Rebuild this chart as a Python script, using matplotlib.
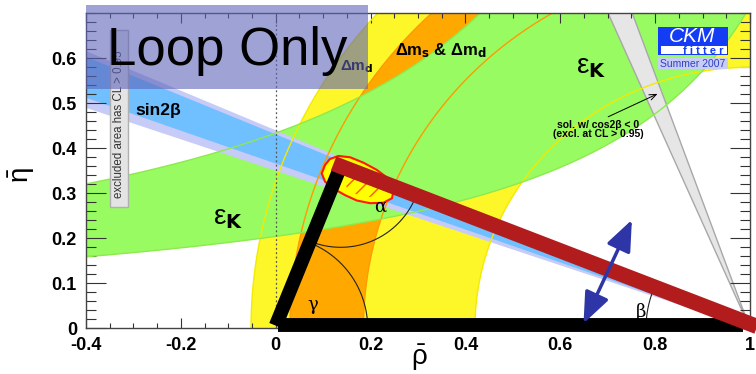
import numpy as np
import matplotlib
matplotlib.use("Agg")
import matplotlib.pyplot as plt
from matplotlib.patches import Polygon, Rectangle, FancyArrowPatch

plt.rcParams['font.family'] = ['Liberation Sans', 'DejaVu Sans']
plt.rcParams['mathtext.default'] = 'regular'
plt.rcParams['hatch.linewidth'] = 1.0

W, H = 756, 374

# ticks
x_ticks = [-0.4, -0.2, 0.0, 0.2, 0.4, 0.6, 0.8, 1.0]
x_tick_labels = ["-0.4", "-0.2", "0", "0.2", "0.4", "0.6", "0.8", "1"]
y_ticks = [0.0, 0.1, 0.2, 0.3, 0.4, 0.5, 0.6]
y_tick_labels = ["0", "0.1", "0.2", "0.3", "0.4", "0.5", "0.6"]

# rings around (1, 0): dmd (yellow), dms & dmd (orange)
dmd_radii = [0.58, 1.052]
dms_radii = [0.815, 0.97]

# eps_K band edges, eta = k / (a - rho) -> [a, k]
epsk_low = [1.40, 0.286]
epsk_up = [1.134, 0.492]

# sin2beta band edges, slope eta / (1 - rho)
sin2b_outer = [0.350, 0.440]
sin2b_inner = [0.366, 0.431]
# cos2beta < 0 solution (grey)
cos2b_slopes = [2.34, 2.82]

# global fit region (95% outline) and hatched inner part
fit_rho = [0.097, 0.104, 0.114, 0.132, 0.157, 0.185, 0.213, 0.241, 0.249, 0.245,
           0.227, 0.199, 0.171, 0.146, 0.121, 0.104]
fit_eta = [0.344, 0.363, 0.376, 0.383, 0.380, 0.368, 0.352, 0.330, 0.307, 0.289,
           0.279, 0.278, 0.284, 0.296, 0.311, 0.326]
fit68_rho = [0.150, 0.185, 0.220, 0.234, 0.223, 0.192, 0.164, 0.146]
fit68_eta = [0.337, 0.344, 0.333, 0.315, 0.296, 0.291, 0.300, 0.318]

# unitarity triangle
apex = [0.137, 0.360]
base_rho = [0.005, 0.986]
base_eta = 0.0075
red_end = [1.0, 0.010]

# blue double arrow and cos2b arrow
blue_arrow = [(0.649, 0.011), (0.751, 0.241)]
sol_arrow = [(0.701, 0.470), (0.805, 0.521)]


def px(x, y):
    return x / W, 1 - y / H


def ring(r_in, r_out, n=400):
    t = np.linspace(0, np.pi, n)
    xo = 1 + r_out * np.cos(t)
    yo = r_out * np.sin(t)
    xi = 1 + r_in * np.cos(t[::-1])
    yi = r_in * np.sin(t[::-1])
    return np.column_stack([np.r_[xo, xi], np.r_[yo, yi]])


def wedge(s1, s2):
    return [(1, 0), (-2, 3 * s1), (-2, 3 * s2)]


fig = plt.figure(figsize=(W / 100, H / 100), dpi=100)
ax = fig.add_axes([86 / W, (H - 328.3) / H, 664 / W, 315.6 / H])
ax.set_xlim(-0.4, 1.0)
ax.set_ylim(0, 0.7013)

yellow = '#fdf72a'
orange = '#ffa800'
green = '#99fb62'

ax.add_patch(Polygon(ring(*dmd_radii), closed=True, fc=yellow, ec='none', zorder=1.0))
ax.add_patch(Polygon(ring(*dms_radii), closed=True, fc=orange, ec='none', zorder=1.1))

rho = np.linspace(-0.5, 1.1, 800)
low = epsk_low[1] / (epsk_low[0] - rho)
up = np.where(rho < epsk_up[0] - 0.01, epsk_up[1] / np.clip(epsk_up[0] - rho, 0.01, None), 5)
up = np.minimum(up, 5)
ax.fill_between(rho, low, up, color=green, lw=0, zorder=1.2)

ax.add_patch(Polygon(wedge(*sin2b_outer), closed=True, fc='#c6cbf7', ec='none', zorder=1.3))
ax.add_patch(Polygon(wedge(*sin2b_inner), closed=True, fc='#70bfff', ec='none', zorder=1.4))
ax.add_patch(Polygon(wedge(*cos2b_slopes), closed=True, fc='#e6e6e6', ec='#a8a8a8', lw=1, zorder=1.5))

# contour lines drawn over the fills
t = np.linspace(0, np.pi, 400)
for r in dmd_radii:
    ax.plot(1 + r * np.cos(t), r * np.sin(t), color='#f2ea00', lw=1, zorder=2)
for r in dms_radii:
    ax.plot(1 + r * np.cos(t), r * np.sin(t), color='#ff9a00', lw=1, zorder=2)
ax.plot(rho, low, color='#8cea4e', lw=1, zorder=2)
ax.plot(rho, up, color='#8cea4e', lw=1, zorder=2)

ax.axvline(0, color='#555555', ls=(0, (1.5, 2)), lw=0.9, zorder=2.1)

# fit region
ax.add_patch(Polygon(np.column_stack([fit_rho, fit_eta]), closed=True, fc='#ffff00',
                     ec='#ff1a00', lw=1.5, zorder=3))
ax.add_patch(Polygon(np.column_stack([fit68_rho, fit68_eta]), closed=True, fc='none',
                     ec='#ff5a00', lw=0, hatch='//', zorder=3.1))

# angle arcs
rx, ry = 1 / 474.3, 1 / 450.0
th = np.radians(np.linspace(-112, -22, 100))
ax.plot(apex[0] + 81 * rx * np.cos(th), apex[1] + 81 * ry * np.sin(th), color='#222222', lw=0.8, zorder=3.2)
th = np.radians(np.linspace(0, 70, 100))
ax.plot(92 * rx * np.cos(th), 92 * ry * np.sin(th), color='#222222', lw=0.8, zorder=3.2)
th = np.radians(np.linspace(157, 180, 50))
ax.plot(1 + 104 * rx * np.cos(th), 104 * ry * np.sin(th), color='#222222', lw=0.8, zorder=3.2)

ax.text(0.22, 0.27, 'α', fontsize=13, family='DejaVu Serif', ha='center', va='center', zorder=3.5)
ax.text(0.079, 0.052, 'γ', fontsize=13, family='DejaVu Serif', ha='center', va='center', zorder=3.5)
ax.text(0.771, 0.036, 'β', fontsize=13, family='DejaVu Serif', ha='center', va='center', zorder=3.5)

# triangle
ax.plot([0.0, apex[0]], [0.006, apex[1]], color='black', lw=10, solid_capstyle='butt', zorder=4, clip_on=False)
ax.plot(base_rho, [base_eta, base_eta], color='black', lw=10, solid_capstyle='butt', zorder=4, clip_on=False)
ax.plot([apex[0], red_end[0]], [apex[1], red_end[1]], color='#b21c1c', lw=11,
        solid_capstyle='projecting', zorder=4.1, clip_on=False)

ax.add_patch(FancyArrowPatch(blue_arrow[0], blue_arrow[1],
                             arrowstyle='<|-|>,head_length=1.35,head_width=0.55',
                             mutation_scale=14, color='#2e35a6', lw=2.5, shrinkA=0, shrinkB=0, zorder=5))
ax.add_patch(FancyArrowPatch(sol_arrow[0], sol_arrow[1], arrowstyle='->,head_length=0.5,head_width=0.2',
                             mutation_scale=10, color='black', lw=0.7, shrinkA=0, shrinkB=0, zorder=5))

# labels
ax.text(-0.248, 0.485, 'sin2β', fontsize=12.5, weight='bold', ha='center', va='center', zorder=3.5)
ax.text(-0.10, 0.245, r'$\varepsilon_{\mathbf{K}}$', fontsize=20, ha='center', va='center', zorder=3.5)
ax.text(0.665, 0.58, r'$\varepsilon_{\mathbf{K}}$', fontsize=20, ha='center', va='center', zorder=3.5)
ax.text(0.349, 0.618, r'Δm$_\mathbf{s}$ & Δm$_\mathbf{d}$', fontsize=12, weight='bold',
        ha='center', va='center', zorder=3.5)
ax.text(0.17, 0.581, r'Δm$_\mathbf{d}$', fontsize=11, weight='bold', ha='center', va='center', zorder=3.5)
ax.text(0.68, 0.442, 'sol. w/ cos2β < 0\n(excl. at CL > 0.95)', fontsize=7.5, weight='bold',
        ha='center', va='center', linespacing=0.9, zorder=3.5)

# axes styling
ax.set_xticks(x_ticks)
ax.set_xticklabels(x_tick_labels)
ax.set_yticks(y_ticks)
ax.set_yticklabels(y_tick_labels)
ax.set_xticks(np.arange(-0.4, 1.001, 0.05), minor=True)
ax.set_yticks(np.arange(0, 0.701, 0.02), minor=True)
for lab in ax.get_xticklabels() + ax.get_yticklabels():
    lab.set_fontweight('bold')
    lab.set_fontsize(13)
ax.tick_params(axis='x', which='major', direction='in', length=7.2, width=0.8, top=True, pad=6, color='#333333')
ax.tick_params(axis='x', which='minor', direction='in', length=3.6, width=0.8, top=True, color='#333333')
ax.tick_params(axis='y', which='major', direction='in', length=14.4, width=0.8, right=True, pad=6.5, color='#333333')
ax.tick_params(axis='y', which='minor', direction='in', length=7.2, width=0.8, right=True, color='#333333')
for s in ax.spines.values():
    s.set_color('#444444')
    s.set_linewidth(1)

fig.text(*px(22, 175), r'$\bar{\eta}$', fontsize=20, rotation=90, ha='center', va='center')
fig.text(*px(419, 358), r'$\bar{\rho}$', fontsize=20, ha='center', va='center')

# excluded area box
fig.add_artist(Rectangle(px(110, 207), 18 / W, 177 / H, fc='#e4e4e4', ec='#b0b0b0', lw=1, zorder=6))
fig.text(*px(119, 124), 'excluded area has CL > 0.95', fontsize=8.3, color='#333333', rotation=90,
         ha='center', va='center', zorder=6.1)

# CKMfitter logo
fig.add_artist(Rectangle(px(658, 55), 70 / W, 28 / H, fc='#143cf5', ec='none', zorder=6))
fig.add_artist(Rectangle(px(660.5, 54), 66 / W, 8 / H, fc='white', ec='none', zorder=6.1))
fig.text(*px(692, 37), 'CKM', fontsize=15, style='italic', color='white', ha='center', va='center', zorder=6.2)
fig.text(*px(703, 50.5), 'f i t t e r', fontsize=8, weight='bold', color='#143cf5', ha='center', va='center', zorder=6.2)
fig.add_artist(Rectangle(px(658, 69.3), 70 / W, 11 / H, fc='#c8cdf5', ec='none', zorder=6))
fig.text(*px(693, 63.8), 'Summer 2007', fontsize=7.5, color='#3040c0', ha='center', va='center', zorder=6.2)

# Loop Only overlay
fig.add_artist(Rectangle(px(86, 89), 282 / W, 84 / H, fc='#5f64ba', ec='none', alpha=0.6, zorder=10))
fig.text(*px(107, 65), 'Loop Only', fontsize=38, color='black', ha='left', va='baseline', zorder=11)

fig.savefig('out.png', dpi=100)
